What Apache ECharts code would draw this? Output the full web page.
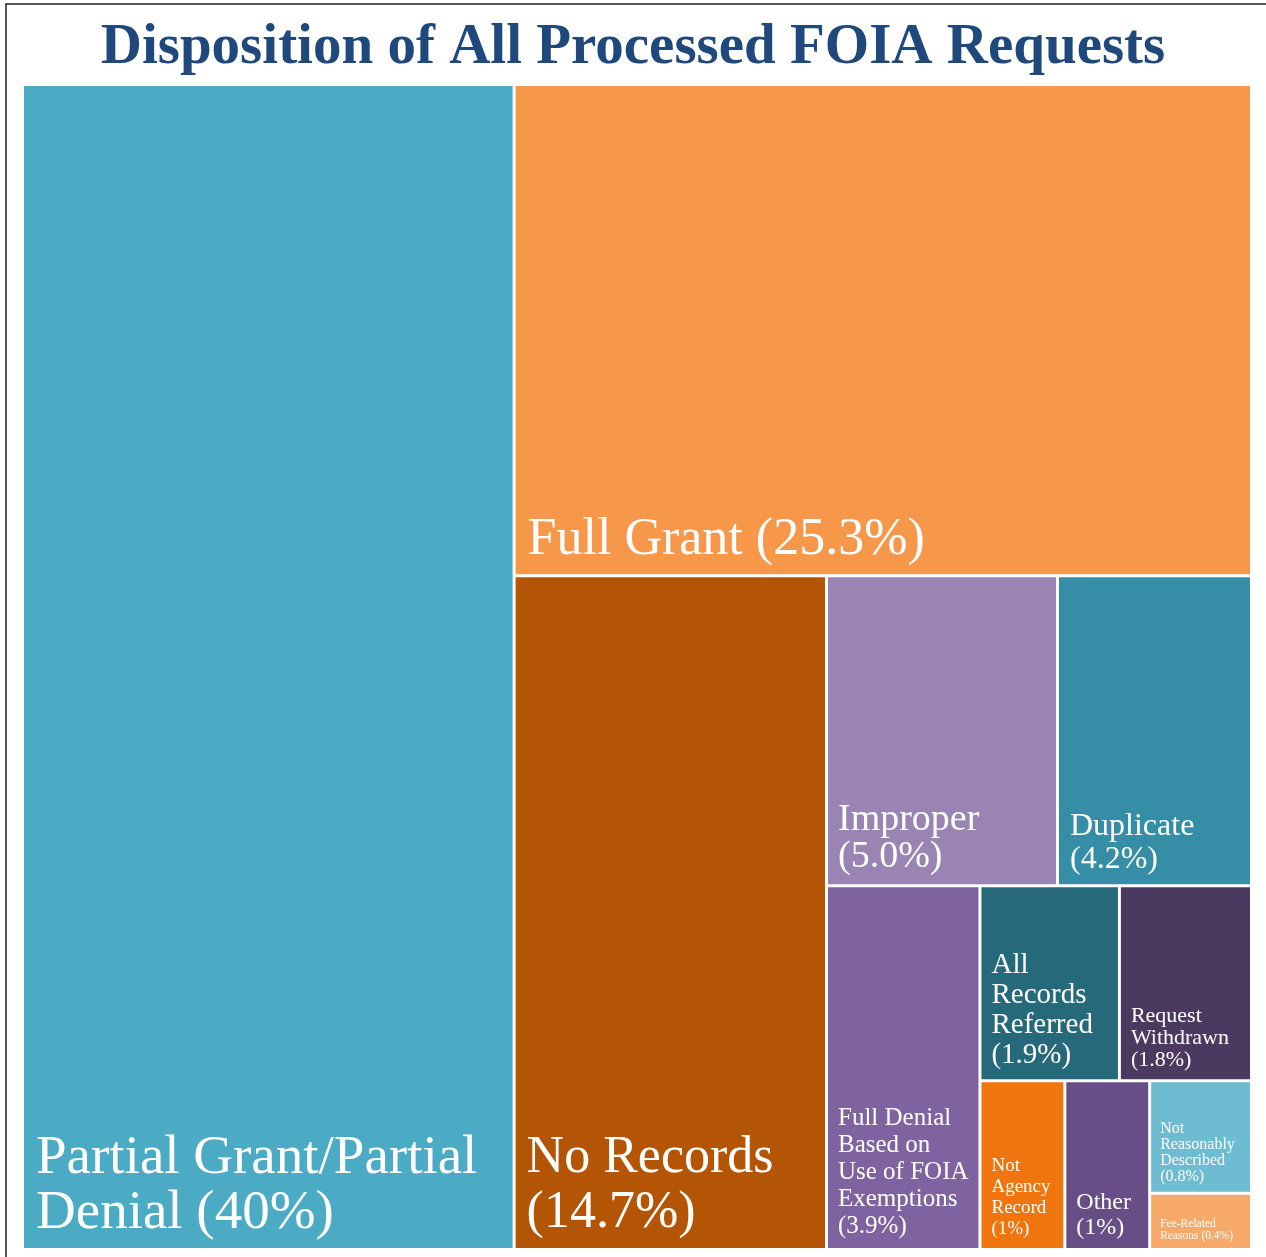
<!DOCTYPE html>
<html>
<head>
<meta charset="utf-8">
<title>Disposition of All Processed FOIA Requests</title>
<script src="https://cdn.jsdelivr.net/npm/echarts@6/dist/echarts.min.js"></script>
<style>
  html, body { margin: 0; padding: 0; background: #fff; }
  #chart { width: 1266px; height: 1257px; }
</style>
</head>
<body>
<div id="chart"></div>
<script>
// share of processed requests, in percent
const categories = [
  'Partial Grant/Partial Denial',
  'Full Grant',
  'No Records',
  'Improper',
  'Duplicate',
  'Full Denial Based on Use of FOIA Exemptions',
  'All Records Referred',
  'Request Withdrawn',
  'Not Agency Record',
  'Other',
  'Not Reasonably Described',
  'Fee-Related Reasons',
]
const shares = [40, 25.3, 14.7, 5.0, 4.2, 3.9, 1.9, 1.8, 1, 1, 0.8, 0.4]
const labels = [
  'Partial Grant/Partial\nDenial (40%)',
  'Full Grant (25.3%)',
  'No Records\n(14.7%)',
  'Improper\n(5.0%)',
  'Duplicate\n(4.2%)',
  'Full Denial\nBased on\nUse of FOIA\nExemptions\n(3.9%)',
  'All\nRecords\nReferred\n(1.9%)',
  'Request\nWithdrawn\n(1.8%)',
  'Not\nAgency\nRecord\n(1%)',
  'Other\n(1%)',
  'Not\nReasonably\nDescribed\n(0.8%)',
  'Fee-Related\nReasons (0.4%)',
]

// nesting of the cells (indices into the arrays above), so squarify splits like the original
const grouping = [0, [1, [2, [[3, 4], [5, [[6, 7], [8, [9, [10, 11]]]]]]]]]

// styles
const colors = [
  '#4BABC5', '#F69749', '#B45506', '#9A84B4', '#368EA6', '#7F63A0',
  '#25697A', '#4C395F', '#F1750F', '#674E86', '#6EBCD1', '#F7A96A',
]
// [fontSize, lineHeight, padBottom, padLeft]
const labelStyle = [
  [55, 55, 7, 12],
  [52, 52, 8, 12],
  [52, 55, 7, 11],
  [38, 37, 9, 10],
  [32, 33, 8, 11],
  [25, 27, 8, 10],
  [29, 30, 9, 10],
  [22, 22, 8, 10],
  [19, 21, 8, 10],
  [24, 25, 8, 10],
  [16, 16, 7, 9],
  [11.5, 12, 6, 9],
]

function build(node) {
  if (typeof node === 'number') {
    const s = labelStyle[node]
    return {
      name: categories[node],
      value: shares[node],
      itemStyle: { color: colors[node] },
      label: {
        formatter: labels[node],
        fontSize: s[0],
        lineHeight: s[1],
        padding: [0, 0, s[2], s[3]],
      },
    }
  }
  const children = node.map(build)
  return {
    name: '',
    value: children.reduce((sum, c) => sum + c.value, 0),
    children,
    itemStyle: { color: '#fff' },
  }
}

const chart = echarts.init(document.getElementById('chart'), null, { renderer: 'canvas' })
chart.setOption({
  animation: false,
  backgroundColor: '#fff',
  title: {
    text: 'Disposition of All Processed FOIA Requests',
    left: 'center',
    top: 20,
    padding: 0,
    textStyle: {
      fontFamily: 'Liberation Serif',
      fontWeight: 'bold',
      fontSize: 57,
      color: '#1F497D',
    },
  },
  graphic: [
    {
      type: 'rect',
      shape: { x: 6, y: 4, width: 1400, height: 1400 },
      style: { fill: 'none', stroke: '#222', lineWidth: 1.5 },
      silent: true,
    },
  ],
  series: [
    {
      type: 'treemap',
      left: 24,
      top: 86,
      width: 1226,
      height: 1162,
      sort: false,
      squareRatio: 1,
      roam: false,
      nodeClick: false,
      breadcrumb: { show: false },
      itemStyle: { borderWidth: 0, gapWidth: 3, borderColor: '#fff' },
      upperLabel: { show: false },
      label: {
        show: true,
        position: 'insideBottomLeft',
        distance: 0,
        color: '#fff',
        fontFamily: 'Liberation Serif',
        overflow: 'none',
      },
      data: grouping.map(build),
    },
  ],
})
</script>
</body>
</html>
